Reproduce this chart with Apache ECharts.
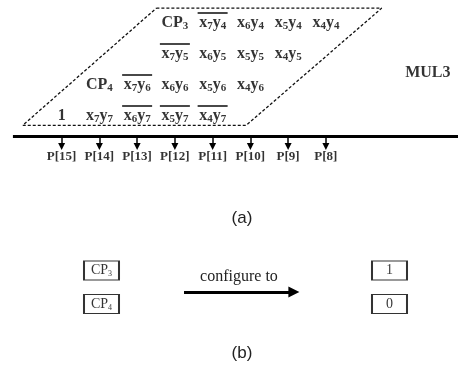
<!DOCTYPE html>
<html>
<head>
<meta charset="utf-8">
<script src="https://cdn.jsdelivr.net/npm/echarts@6/dist/echarts.min.js"></script>
<style>
  html, body { margin: 0; padding: 0; background: #fff; }
  #chart { width: 458px; height: 366px; }
</style>
</head>
<body>
<div id="chart"></div>
<script>
// partial product rows, column index 0..7 = P[15]..P[8]
const outputs = ['P[15]', 'P[14]', 'P[13]', 'P[12]', 'P[11]', 'P[10]', 'P[9]', 'P[8]']
const termRows = [
  ['', '', '', 'CP3', 'x7y4', 'x6y4', 'x5y4', 'x4y4'],
  ['', '', '', 'x7y5', 'x6y5', 'x5y5', 'x4y5', ''],
  ['', 'CP4', 'x7y6', 'x6y6', 'x5y6', 'x4y6', '', ''],
  ['1', 'x7y7', 'x6y7', 'x5y7', 'x4y7', '', '', ''],
]
const invertedTerms = ['x7y4', 'x7y5', 'x7y6', 'x6y7', 'x5y7', 'x4y7']
// dashed frame corners (column, row)
const frameCorners = [[2.51, -0.48], [8.48, -0.48], [4.89, 3.3], [-1.03, 3.3], [2.51, -0.48]]
const busRow = 3.645
const arrowTipRow = 3.98
const labelRow = 4.32
const moduleName = 'MUL3'
const modulePos = [9.7, 1.6]

// part (b)
const configFrom = ['CP3', 'CP4']
const configTo = ['1', '0']
const configArrow = [[0.2865, 0.642], [0.668, 0.642]]
const configText = 'configure to'

const SERIF = '"Liberation Serif", "Times New Roman", serif'

function rich(t) {
  if (!/[A-Za-z]/.test(t)) return '{b|' + t + '}'
  return t.replace(/([A-Za-z]+)(\d)/g, '{b|$1}{s|$2}')
}

const termData = []
const barData = []
termRows.forEach((row, r) => {
  row.forEach((t, c) => {
    if (!t) return
    termData.push([c, r, t])
    if (invertedTerms.includes(t)) barData.push([c, r])
  })
})

const chart = echarts.init(document.getElementById('chart'))
const hiddenAxis = { show: false, splitLine: { show: false } }

chart.setOption({
  animation: false,
  backgroundColor: '#fff',
  grid: [
    { left: 5, width: 456, top: 7.5, height: 155 },
    { left: 101.5, width: 288, top: 270.5, height: 33.5 },
  ],
  xAxis: [
    { ...hiddenAxis, type: 'value', min: -1.5, max: 10.5, gridIndex: 0 },
    { ...hiddenAxis, type: 'value', min: 0, max: 1, gridIndex: 1 },
  ],
  yAxis: [
    { ...hiddenAxis, type: 'value', min: -0.5, max: 4.5, inverse: true, gridIndex: 0 },
    { ...hiddenAxis, type: 'value', min: 0, max: 1, inverse: true, gridIndex: 1 },
  ],
  graphic: [
    { type: 'text', x: 242, y: 218, style: { text: '(a)', font: '17px "Liberation Sans", Arial, sans-serif', fill: '#222', align: 'center', verticalAlign: 'middle' } },
    { type: 'text', x: 242, y: 353, style: { text: '(b)', font: '17px "Liberation Sans", Arial, sans-serif', fill: '#222', align: 'center', verticalAlign: 'middle' } },
  ],
  series: [
    {
      type: 'line', xAxisIndex: 0, yAxisIndex: 0, clip: false,
      data: frameCorners, symbol: 'none',
      lineStyle: { color: '#111', width: 1.3, type: [3, 2] },
      markLine: {
        silent: true, symbol: ['none', 'none'], label: { show: false },
        lineStyle: { color: '#000', width: 3, type: 'solid' },
        data: [[{ coord: [-1.29, busRow] }, { coord: [10.5, busRow] }]],
      },
    },
    {
      type: 'scatter', xAxisIndex: 0, yAxisIndex: 0, clip: false,
      data: outputs.map((_, i) => [i, busRow]),
      symbolSize: 0,
      markLine: {
        silent: true, symbol: ['none', 'triangle'], symbolSize: 7,
        label: { show: false },
        lineStyle: { color: '#000', width: 1.5, type: 'solid' },
        data: outputs.map((_, i) => [{ coord: [i, busRow] }, { coord: [i, arrowTipRow] }]),
      },
    },
    {
      type: 'scatter', xAxisIndex: 0, yAxisIndex: 0, clip: false,
      data: outputs.map((p, i) => [i, labelRow, p]),
      symbolSize: 1, itemStyle: { color: 'rgba(0,0,0,0)' },
      label: {
        show: true, position: 'inside', formatter: (p) => p.data[2],
        fontFamily: SERIF, fontWeight: 'bold', fontSize: 13, color: '#000',
      },
    },
    {
      type: 'scatter', xAxisIndex: 0, yAxisIndex: 0, clip: false,
      data: termData,
      symbolSize: 1, itemStyle: { color: 'rgba(0,0,0,0)' },
      label: {
        show: true, position: 'inside', formatter: (p) => rich(p.data[2]),
        rich: {
          b: { fontFamily: SERIF, fontWeight: 'bold', fontSize: 16, lineHeight: 18, color: '#000' },
          s: { fontFamily: SERIF, fontWeight: 'bold', fontSize: 11, lineHeight: 12, verticalAlign: 'bottom', color: '#000' },
        },
      },
    },
    {
      type: 'scatter', xAxisIndex: 0, yAxisIndex: 0, clip: false,
      data: barData,
      symbol: 'rect', symbolSize: [30, 1.8], symbolOffset: [0, -10],
      itemStyle: { color: '#000' },
    },
    {
      type: 'scatter', xAxisIndex: 0, yAxisIndex: 0, clip: false,
      data: [[modulePos[0], modulePos[1], moduleName]],
      symbolSize: 1, itemStyle: { color: 'rgba(0,0,0,0)' },
      label: {
        show: true, position: 'inside', formatter: (p) => p.data[2],
        fontFamily: SERIF, fontWeight: 'bold', fontSize: 16, color: '#000',
      },
    },
    // part (b)
    {
      type: 'scatter', xAxisIndex: 1, yAxisIndex: 1, clip: false,
      data: configFrom.map((t, i) => [0, i, t]).concat(configTo.map((t, i) => [1, i, t])),
      symbol: 'rect', symbolSize: [35, 19],
      itemStyle: { color: '#fff', borderColor: '#000', borderWidth: 1.5 },
      label: {
        show: true, position: 'inside', formatter: (p) => rich(p.data[2]),
        rich: {
          b: { fontFamily: SERIF, fontSize: 14, lineHeight: 15, color: '#000' },
          s: { fontFamily: SERIF, fontSize: 8, lineHeight: 9, verticalAlign: 'bottom', color: '#000' },
        },
      },
    },
    {
      type: 'line', xAxisIndex: 1, yAxisIndex: 1, clip: false,
      data: [], symbol: 'none',
      markLine: {
        silent: true, symbol: ['none', 'triangle'], symbolSize: 11,
        lineStyle: { color: '#000', width: 3, type: 'solid' },
        label: {
          show: true, position: 'middle', formatter: configText, distance: 7,
          fontFamily: SERIF, fontSize: 16, color: '#222',
        },
        data: [[{ coord: configArrow[0] }, { coord: configArrow[1] }]],
      },
    },
  ],
})
</script>
</body>
</html>
